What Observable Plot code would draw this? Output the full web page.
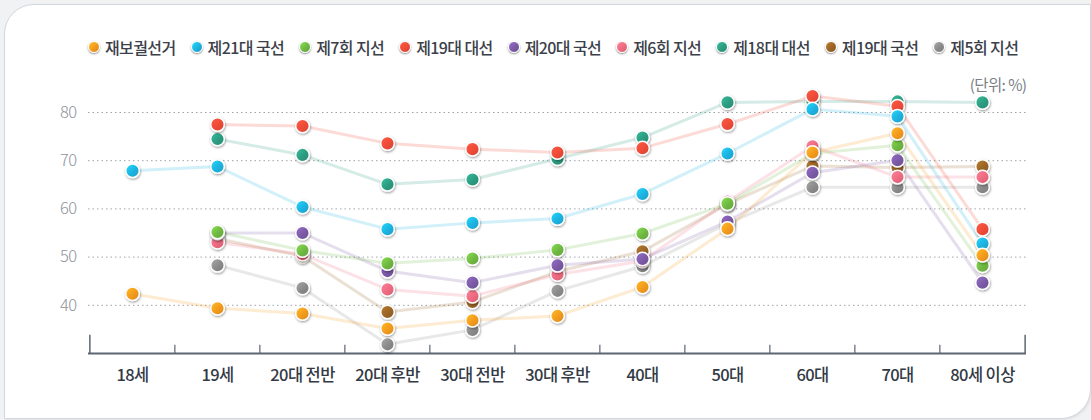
<!DOCTYPE html>
<html><head><meta charset="utf-8">
<script src="https://cdn.jsdelivr.net/npm/d3@7"></script>
<script src="https://cdn.jsdelivr.net/npm/@observablehq/plot@0.6"></script>
<style>
html,body{margin:0;padding:0;background:#f1f2f4;}
#wrap{position:relative;width:1091px;height:420px;overflow:hidden;font-family:"Noto Sans CJK KR","Noto Sans",sans-serif;}
#card{position:absolute;left:4px;top:4px;width:1085px;height:413px;background:#fff;border:1px solid #d3d7de;border-radius:30px 0 30px 0;box-shadow:1px 1px 3px rgba(0,0,0,0.08);}
#legend{position:absolute;left:88px;top:36px;height:22px;display:flex;align-items:center;font-size:16px;color:#3b4049;letter-spacing:-0.6px;font-weight:500;white-space:nowrap;}
.item{display:flex;align-items:center;margin-right:15px;}
.sw{width:10px;height:10px;border-radius:50%;border:1.5px solid #fff;box-shadow:0 1px 2px rgba(0,0,0,.45);margin-right:5px;}
#chart{position:absolute;left:0;top:0;}
</style></head>
<body>
<div id="wrap"><div id="card"></div><div id="chart"></div><div id="legend"></div></div>
<script>
const ages = ["18세","19세","20대 전반","20대 후반","30대 전반","30대 후반","40대","50대","60대","70대","80세 이상"];
const seriesNames = ["재보궐선거","제21대 국선","제7회 지선","제19대 대선","제20대 국선","제6회 지선","제18대 대선","제19대 국선","제5회 지선"];
const seriesColors = ["#f39a1e","#1db2e0","#6fb842","#ee4b38","#7b5aa6","#ee6a80","#2c9c80","#9a6526","#8a8a8a"];

const byElection = [42.4, 39.4, 38.3, 35.2, 36.9, 37.8, 43.8, 55.9, 71.7, 75.7, 50.4];
const national21 = [67.9, 68.8, 60.4, 55.8, 57.1, 58.0, 63.1, 71.5, 80.7, 79.2, 52.8];
const local7     = [null, 55.2, 51.4, 48.7, 49.7, 51.5, 54.9, 61.1, 71.5, 73.2, 48.2];
const pres19     = [null, 77.5, 77.2, 73.6, 72.4, 71.7, 72.6, 77.6, 83.4, 81.3, 55.8];
const national20 = [null, 55.0, 55.0, 47.1, 44.7, 48.3, 49.6, 57.4, 67.5, 70.1, 44.7];
const local6     = [null, 53.1, 50.6, 43.3, 41.9, 46.4, 49.2, 61.5, 73.0, 66.6, 66.6];
const pres18     = [null, 74.5, 71.2, 65.1, 66.1, 70.4, 74.8, 82.1, 82.3, 82.3, 82.1];
const national19 = [null, 53.8, 50.2, 38.6, 40.7, 47.0, 51.2, 61.0, 68.9, 68.6, 68.8];
const local5     = [null, 48.3, 43.6, 31.9, 34.9, 43.0, 48.1, 57.0, 64.5, 64.5, 64.5];
const seriesValues = [byElection, national21, local7, pres19, national20, local6, pres18, national19, local5];

const yTicks = [40, 50, 60, 70, 80];
const unitLabel = "(단위: %)";

// rows, drawn in reverse legend order (first series on top)
const rows = [];
for (let s = seriesNames.length - 1; s >= 0; s--) {
  seriesValues[s].forEach((v, i) => { if (v != null) rows.push({series: seriesNames[s], si: s, age: ages[i], value: v}); });
}

const W = 1091, H = 420, mL = 88, mR = 65;
const step = (W - mL - mR) / ages.length;
const axisColor = "#5d6674";

const dotMarks = [];
for (let s = seriesNames.length - 1; s >= 0; s--) {
  dotMarks.push(Plot.dot(rows.filter(r => r.si === s), {x: "age", y: "value", r: 6.8, fill: `url(#g${s})`, stroke: "#fff", strokeWidth: 1.5}));
}

const svg = Plot.plot({
  width: W, height: H,
  marginLeft: mL, marginRight: mR, marginTop: 112, marginBottom: 67,
  style: {background: "transparent", fontFamily: '"Noto Sans CJK KR","Noto Sans",sans-serif', overflow: "visible"},
  x: {type: "point", domain: ages, padding: 0.5, axis: null},
  y: {domain: [30, 80], axis: null},
  color: {domain: seriesNames, range: seriesColors},
  marks: [
    Plot.ruleY(yTicks, {stroke: "#9ea3ab", strokeDasharray: "1.5,3", strokeWidth: 1}),
    Plot.text(yTicks, {y: d => d, frameAnchor: "left", dx: -12, textAnchor: "end", fill: "#8e949c", fontSize: 16.5, fontWeight: 300}),
    Plot.ruleY([30], {stroke: axisColor, strokeWidth: 2}),
    Plot.ruleX(ages.slice(1), {x: d => d, y1: 30, y2: 31.7, dx: -step / 2, stroke: axisColor, strokeWidth: 1.2}),
    Plot.ruleX([ages[0]], {x: d => d, y1: 30, y2: 33.8, dx: -step / 2, stroke: axisColor, strokeWidth: 1.5}),
    Plot.ruleX([ages[ages.length - 1]], {x: d => d, y1: 30, y2: 33.8, dx: step / 2, stroke: axisColor, strokeWidth: 1.5}),
    Plot.text(ages, {x: d => d, frameAnchor: "bottom", dy: 27, fill: "#333a45", fontSize: 16.5, fontWeight: 500}),
    Plot.text([unitLabel], {frameAnchor: "top-right", dy: -33, textAnchor: "end", fill: "#7a7f87", fontSize: 15.5}),
    Plot.line(rows, {x: "age", y: "value", z: "series", stroke: "series", strokeWidth: 3, strokeOpacity: 0.2}),
    ...dotMarks
  ]
});

const sel = d3.select(svg);
const defs = sel.insert("defs", ":first-child");
seriesColors.forEach((c, i) => {
  const g = defs.append("linearGradient").attr("id", "g" + i).attr("x1", "0").attr("y1", "0").attr("x2", "1").attr("y2", "1");
  g.append("stop").attr("offset", "0").attr("stop-color", d3.color(c).brighter(0.6).formatHex());
  g.append("stop").attr("offset", "0.55").attr("stop-color", c);
  g.append("stop").attr("offset", "1").attr("stop-color", d3.color(c).darker(0.35).formatHex());
});
const f = defs.append("filter").attr("id", "sh").attr("x", "-50%").attr("y", "-50%").attr("width", "200%").attr("height", "200%");
f.append("feDropShadow").attr("dx", 0.6).attr("dy", 1.2).attr("stdDeviation", 1.1).attr("flood-color", "#000").attr("flood-opacity", 0.4);
sel.selectAll("circle").attr("filter", "url(#sh)");
sel.selectAll("text").style("letter-spacing", "-0.6px");
document.getElementById("chart").appendChild(svg);

// legend
const legend = d3.select("#legend");
seriesNames.forEach((n, i) => {
  const c = seriesColors[i];
  const it = legend.append("div").attr("class", "item");
  it.append("div").attr("class", "sw").style("background",
    `linear-gradient(135deg, ${d3.color(c).brighter(0.6).formatHex()}, ${c} 55%, ${d3.color(c).darker(0.35).formatHex()})`);
  it.append("span").text(n);
});
</script>
</body></html>
